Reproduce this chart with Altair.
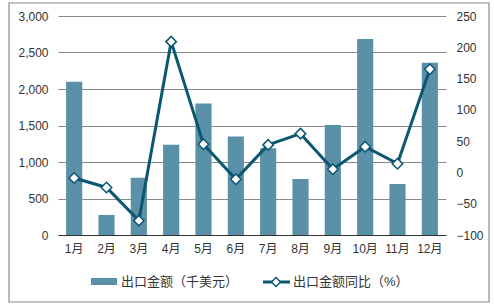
import altair as alt
import pandas as pd

months = ["1月", "2月", "3月", "4月", "5月", "6月", "7月", "8月", "9月", "10月", "11月", "12月"]
export_value = [2100, 275, 785, 1235, 1800, 1350, 1190, 768, 1507, 2685, 700, 2360]
export_yoy = [-9, -24, -77, 209, 45, -11, 44, 62, 5, 41, 14, 165]

bar_name = "出口金额（千美元）"
line_name = "出口金额同比（%）"

df = pd.DataFrame({"month": months, "value": export_value, "yoy": export_yoy})

FONT = "Liberation Sans, Noto Sans CJK SC"
BAR_C = "#5a90a8"
LINE_C = "#0b5670"

x_enc = alt.X("month:N", sort=months, title=None,
              scale=alt.Scale(paddingInner=0.5, paddingOuter=0.25),
              axis=alt.Axis(labelAngle=0, ticks=False, domainColor="#333333",
                            labelPadding=8, labelFontSize=12, labelColor="#333333",
                            labelFont=FONT))

bars = alt.Chart(df).mark_bar(color=BAR_C).encode(
    x=x_enc,
    y=alt.Y("value:Q", title=None,
            scale=alt.Scale(domain=[0, 3000], nice=False),
            axis=alt.Axis(values=[0, 500, 1000, 1500, 2000, 2500, 3000], format=",d",
                          domain=False, ticks=False, grid=True, gridColor="#8a8a8a",
                          labelPadding=10, labelFontSize=12, labelColor="#333333",
                          labelFont=FONT))
)

line = alt.Chart(df).mark_line(
    color=LINE_C, strokeWidth=3,
    point=alt.OverlayMarkDef(shape="diamond", filled=True, fill="white",
                             stroke=LINE_C, strokeWidth=1.5, size=110, opacity=1)
).encode(
    x=alt.X("month:N", sort=months),
    y=alt.Y("yoy:Q", title=None,
            scale=alt.Scale(domain=[-100, 250], nice=False),
            axis=alt.Axis(orient="right", values=[-100, -50, 0, 50, 100, 150, 200, 250],
                          format="d", domain=False, ticks=False, grid=False,
                          labelPadding=10, labelFontSize=12, labelColor="#333333",
                          labelFont=FONT))
)

legend_df = pd.DataFrame({"a": [0]})
leg_rect = alt.Chart(legend_df).mark_rect(color=BAR_C).encode(
    x=alt.value(33), x2=alt.value(59), y=alt.value(262), y2=alt.value(269))
leg_text1 = alt.Chart(legend_df).mark_text(align="left", baseline="middle", fontSize=13,
                                           font=FONT, color="#333333").encode(
    x=alt.value(63), y=alt.value(266), text=alt.value(bar_name))
leg_line = alt.Chart(legend_df).mark_rule(color=LINE_C, strokeWidth=3).encode(
    x=alt.value(205), x2=alt.value(232), y=alt.value(266))
leg_pt = alt.Chart(legend_df).mark_point(shape="diamond", filled=True, fill="white",
                                         stroke=LINE_C, strokeWidth=1.5, size=80, opacity=1).encode(
    x=alt.value(218), y=alt.value(266))
leg_text2 = alt.Chart(legend_df).mark_text(align="left", baseline="middle", fontSize=13,
                                           font=FONT, color="#333333").encode(
    x=alt.value(235), y=alt.value(266), text=alt.value(line_name))
border = alt.Chart(legend_df).mark_rect(fill=None, stroke="#8a8a8a", strokeWidth=1.2).encode(
    x=alt.value(-49), x2=alt.value(431), y=alt.value(-13), y2=alt.value(286))

chart = alt.layer(bars, line, leg_rect, leg_text1, leg_line, leg_pt, leg_text2, border).resolve_scale(
    y="independent"
).properties(
    width=388, height=219,
    padding={"left": 58, "top": 16, "right": 48, "bottom": 73},
    autosize=alt.AutoSizeParams(type="none"),
    background="white",
).configure_view(stroke=None)

chart.save("out.html", embed_options={"renderer": "svg", "actions": False})
